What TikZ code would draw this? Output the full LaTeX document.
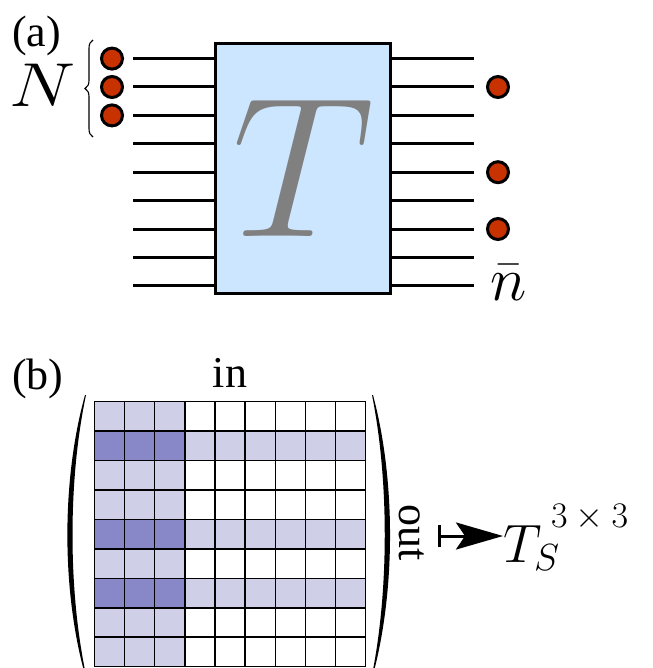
\documentclass[tikz,border=0pt]{standalone}
\usepackage{fix-cm}
\usepackage[no-math]{fontspec}
\setmainfont{Liberation Serif}
\newfontfamily\serifrm{Liberation Serif}
\usetikzlibrary{arrows.meta,decorations.pathreplacing}
\definecolor{boxblue}{RGB}{204,230,255}
\definecolor{dotred}{RGB}{200,50,0}
\definecolor{lav}{RGB}{207,207,232}
\definecolor{lavd}{RGB}{136,136,200}
\definecolor{tgray}{RGB}{128,128,128}
\begin{document}
\begin{tikzpicture}[x=1pt,y=1pt,
  wire/.style={line width=3pt},
  dot/.style={circle,draw=black,line width=3pt,fill=dotred,minimum size=21pt,inner sep=0pt},
  lbl/.style={inner sep=0pt,font=\serifrm\fontsize{44}{44}\selectfont},
  gridline/.style={draw=black,line width=1.5pt},
  paren/.style={fill=black}]
\useasboundingbox (0,0) rectangle (652,-668);

% ---------- (a) ----------
\node[lbl,anchor=base west] (a) at (12,-47) {(a)};
\node[draw=black,line width=3pt,fill=boxblue,minimum width=175pt,minimum height=250pt,inner sep=0pt] (T) at (303,-168.5) {};
\node[text=tgray,inner sep=0pt,font=\fontsize{200}{200}\selectfont] (Tl) at (303,-168.5) {$T$};

\foreach \k in {0,...,8}{
  \coordinate (L\k) at (133,{-58.6-28.4*\k});
  \coordinate (R\k) at (474,{-58.6-28.4*\k});
  \draw[wire] (L\k) -- (L\k -| T.west);
  \draw[wire] (T.east |- R\k) -- (R\k);
}
\node[dot] (d1) at (112,-58.6) {};
\node[dot] (d2) at (112,-87.0) {};
\node[dot] (d3) at (112,-115.4) {};
\node[dot] (e1) at (498,-87.0) {};
\node[dot] (e2) at (498,-172.2) {};
\node[dot] (e3) at (498,-229.0) {};

\draw[line width=1.1pt,decorate,decoration={brace,amplitude=8pt}] (93,-137) -- (93,-40);
\node[anchor=base west,inner sep=0pt,font=\fontsize{62}{62}\selectfont,xscale=1.2] (N) at (9,-107) {$N$};
\node[anchor=base west,inner sep=0pt,font=\fontsize{62}{62}\selectfont] (nbar) at (490,-300) {$\bar n$};

% ---------- (b) ----------
\node[lbl,anchor=base west] (b) at (12,-389) {(b)};
\node[lbl,anchor=base] (in) at (230,-387) {in};

\fill[lav] (94.3,-401.7) rectangle (184.8,-666.7);
\foreach \r in {1,4,6}{
  \fill[lav] (94.3,{-401.7-29.44*\r}) rectangle (365.7,{-401.7-29.44*(\r+1)});
  \fill[lavd] (94.3,{-401.7-29.44*\r}) rectangle (184.8,{-401.7-29.44*(\r+1)});
}
\foreach \i in {0,...,9}{
  \draw[gridline] ({94.3+30.16*\i},-401.7) -- ({94.3+30.16*\i},-666.7);
  \draw[gridline] (94.3,{-401.7-29.44*\i}) -- (365.7,{-401.7-29.44*\i});
}
\fill[paren] (85,-395) .. controls (61.5,-480) and (61.5,-590) .. (85,-675)
  -- (86,-675) .. controls (68,-590) and (68,-480) .. (86,-395) -- cycle;
\fill[paren] (373,-395) .. controls (395.7,-480) and (395.7,-590) .. (373,-675)
  -- (372,-675) .. controls (389,-590) and (389,-480) .. (372,-395) -- cycle;

\node[lbl,rotate=-90] (out) at (412,-533) {out};
\coordinate (ms) at (438,-536);
\node[anchor=base west,inner sep=0pt,font=\fontsize{54}{54}\selectfont] (TS) at (503,-562) {$T_S$};
\node[anchor=base west,inner sep=0pt,font=\fontsize{36}{36}\selectfont] (sup) at (551,-527) {$3\times 3$};
\draw[line width=3pt,{Bar[width=22pt]}-{Stealth[length=47pt,width=27pt,inset=9pt]}] (ms) -- (ms -| TS.west);
\end{tikzpicture}
\end{document}
